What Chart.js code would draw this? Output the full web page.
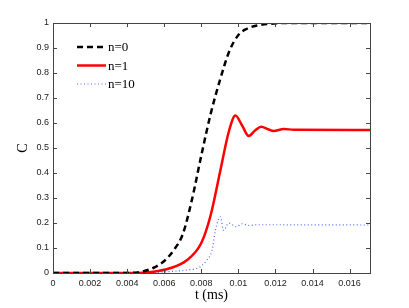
<!DOCTYPE html>
<html>
<head>
<meta charset="utf-8">
<script src="https://cdn.jsdelivr.net/npm/chart.js@4/dist/chart.umd.min.js"></script>
<style>
  html, body { margin: 0; padding: 0; background: #fff; }
  #chart { display: block; }
</style>
</head>
<body>
<canvas id="chart" width="409" height="308"></canvas>
<script>
// 系列データ (t [ms], C).
const seriesLabels = ['n=0', 'n=1', 'n=10'];

const tN0 = [0, 0.004, 0.0047, 0.0054, 0.006, 0.0065, 0.007, 0.0075, 0.008, 0.0085, 0.009, 0.0095, 0.01, 0.0105, 0.011, 0.0117, 0.0125, 0.0171];
const cN0 = [0, 0, 0.004, 0.02, 0.048, 0.09, 0.155, 0.295, 0.47, 0.635, 0.77, 0.885, 0.952, 0.978, 0.99, 0.997, 1, 1];

const tN1 = [0, 0.0045, 0.0054, 0.0063, 0.0072, 0.008, 0.0085, 0.009, 0.0095, 0.00984, 0.0102, 0.01056, 0.0109, 0.01123, 0.0116, 0.0119, 0.01245, 0.013, 0.0171];
const cN1 = [0, 0, 0.005, 0.019, 0.05, 0.12, 0.23, 0.4, 0.57, 0.63, 0.59, 0.548, 0.57, 0.585, 0.575, 0.568, 0.576, 0.573, 0.572];

const tN10 = [0, 0.005, 0.00615, 0.00723, 0.00795, 0.0083, 0.00858, 0.00876, 0.00903, 0.0092, 0.00948, 0.0099, 0.0102, 0.0106, 0.011, 0.0171];
const cN10 = [0, 0.001, 0.005, 0.012, 0.025, 0.052, 0.09, 0.17, 0.225, 0.17, 0.2, 0.185, 0.197, 0.19, 0.193, 0.192];

// 目盛り.
const xTicks = [0, 0.002, 0.004, 0.006, 0.008, 0.01, 0.012, 0.014, 0.016];
const yTicks = [0, 0.1, 0.2, 0.3, 0.4, 0.5, 0.6, 0.7, 0.8, 0.9, 1];

const toPoints = (ts, cs) => ts.map((t, i) => ({ x: t, y: cs[i] }));

// 枠と内向きの目盛り線、凡例.
const boxPlugin = {
  id: 'box',
  afterDraw(chart) {
    const ctx = chart.ctx;
    const a = chart.chartArea;
    const xs = chart.scales.x, ys = chart.scales.y;
    ctx.save();
    ctx.strokeStyle = '#444';
    ctx.lineWidth = 1;
    ctx.strokeRect(a.left + 0.5, a.top + 0.5, a.right - a.left, a.bottom - a.top);
    ctx.beginPath();
    xTicks.forEach(v => {
      const px = Math.round(xs.getPixelForValue(v)) + 0.5;
      ctx.moveTo(px, a.bottom); ctx.lineTo(px, a.bottom - 4);
      ctx.moveTo(px, a.top); ctx.lineTo(px, a.top + 4);
    });
    yTicks.forEach(v => {
      const py = Math.round(ys.getPixelForValue(v)) + 0.5;
      ctx.moveTo(a.left, py); ctx.lineTo(a.left + 4, py);
      ctx.moveTo(a.right, py); ctx.lineTo(a.right - 4, py);
    });
    ctx.stroke();

    // 凡例.
    const rows = [47, 65.5, 84];
    ctx.font = '13px "Liberation Serif", "Times New Roman", serif';
    ctx.textBaseline = 'middle';
    ctx.fillStyle = '#000';
    chart.data.datasets.forEach((ds, i) => {
      ctx.beginPath();
      ctx.strokeStyle = ds.borderColor;
      ctx.lineWidth = ds.borderWidth;
      ctx.setLineDash(ds.borderDash || []);
      ctx.moveTo(77, rows[i]); ctx.lineTo(106, rows[i]);
      ctx.stroke();
      ctx.setLineDash([]);
      ctx.fillText(ds.label, 108, rows[i] + 1);
    });
    ctx.restore();
  }
};

new Chart(document.getElementById('chart'), {
  type: 'line',
  data: {
    datasets: [
      {
        label: seriesLabels[0],
        data: toPoints(tN0, cN0),
        borderColor: '#000000',
        borderWidth: 2.5,
        borderDash: [6, 4],
        pointRadius: 0,
        cubicInterpolationMode: 'monotone',
      },
      {
        label: seriesLabels[1],
        data: toPoints(tN1, cN1),
        borderColor: '#ff0000',
        borderWidth: 2.5,
        pointRadius: 0,
        cubicInterpolationMode: 'monotone',
      },
      {
        label: seriesLabels[2],
        data: toPoints(tN10, cN10),
        borderColor: '#4d6bff',
        borderWidth: 1.2,
        borderDash: [1, 2.5],
        pointRadius: 0,
        cubicInterpolationMode: 'monotone',
      },
    ],
  },
  options: {
    responsive: false,
    animation: false,
    layout: { padding: { top: 23, right: 39, left: 0, bottom: 0 } },
    plugins: {
      legend: { display: false },
      tooltip: { enabled: false },
    },
    scales: {
      x: {
        type: 'linear',
        min: 0,
        max: 0.0171,
        afterBuildTicks: (s) => { s.ticks = xTicks.map(v => ({ value: v })); },
        afterFit: (s) => { s.height = 35; },
        grid: { display: false, drawTicks: false },
        border: { display: true, color: '#444' },
        ticks: {
          padding: 5,
          color: '#222',
          font: { family: '"Liberation Sans", Arial, sans-serif', size: 9 },
          maxRotation: 0,
          callback: (v) => String(Number(v.toFixed(3))),
        },
        title: {
          display: true,
          text: 't (ms)',
          color: '#000',
          font: { family: '"Liberation Serif", "Times New Roman", serif', size: 14 },
          padding: { top: 0, bottom: 4 },
        },
      },
      y: {
        type: 'linear',
        min: 0,
        max: 1,
        afterBuildTicks: (s) => { s.ticks = yTicks.map(v => ({ value: v })); },
        afterFit: (s) => { s.width = 53; },
        grid: { display: false, drawTicks: false },
        border: { display: true, color: '#444' },
        ticks: {
          padding: 4,
          color: '#222',
          font: { family: '"Liberation Sans", Arial, sans-serif', size: 9 },
          callback: (v) => String(Number(v.toFixed(1))),
        },
        title: {
          display: true,
          text: 'C',
          color: '#000',
          font: { family: '"Liberation Serif", "Times New Roman", serif', size: 14 },
          padding: { top: 15, bottom: 0 },
        },
      },
    },
  },
  plugins: [boxPlugin],
});
</script>
</body>
</html>
